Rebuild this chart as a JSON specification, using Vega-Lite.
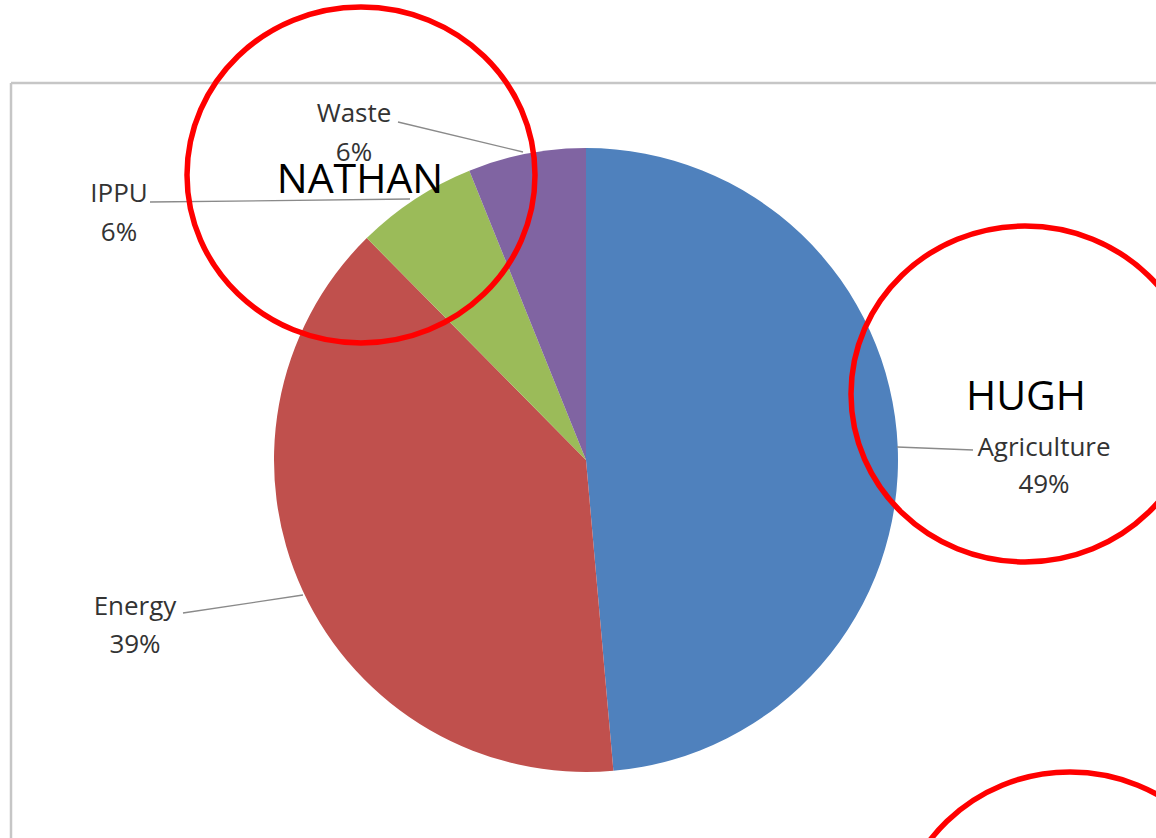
{
  "$schema": "https://vega.github.io/schema/vega-lite/v6.json",
  "width": 1156,
  "height": 838,
  "autosize": {"type": "none"},
  "padding": 0,
  "background": "white",
  "config": {"view": {"stroke": null}},
  "datasets": {
    "shares": [
      {"category": "Agriculture", "share": 0.486},
      {"category": "Energy", "share": 0.39},
      {"category": "IPPU", "share": 0.063},
      {"category": "Waste", "share": 0.061}
    ]
  },
  "data": {"name": "shares"},
  "layer": [
    {
      "data": {"values": [{}]},
      "mark": {"type": "rule", "color": "#c6c6c6", "strokeWidth": 2.5},
      "encoding": {
        "x": {"datum": 11, "type": "quantitative", "scale": {"domain": [0, 1156], "nice": false, "zero": false}, "axis": null},
        "x2": {"datum": 1156},
        "y": {"datum": 83, "type": "quantitative", "scale": {"domain": [838, 0], "nice": false, "zero": false}, "axis": null}
      }
    },
    {
      "data": {"values": [{}]},
      "mark": {"type": "rule", "color": "#c6c6c6", "strokeWidth": 2.5},
      "encoding": {
        "x": {"datum": 11, "type": "quantitative", "scale": {"domain": [0, 1156], "nice": false, "zero": false}, "axis": null},
        "y": {"datum": 83, "type": "quantitative", "scale": {"domain": [838, 0], "nice": false, "zero": false}, "axis": null},
        "y2": {"datum": 838}
      }
    },
    {
      "mark": {"type": "arc", "radius": 312},
      "encoding": {
        "theta": {"field": "share", "type": "quantitative", "stack": true},
        "order": {"field": "category", "type": "ordinal", "sort": "ascending"},
        "color": {
          "field": "category",
          "type": "nominal",
          "scale": {"domain": ["Agriculture", "Energy", "IPPU", "Waste"], "range": ["#4f81bd", "#c0504d", "#9bbb59", "#8064a2"]},
          "legend": null
        },
        "x": {"datum": 586, "type": "quantitative", "scale": {"domain": [0, 1156], "nice": false, "zero": false}, "axis": null},
        "y": {"datum": 460, "type": "quantitative", "scale": {"domain": [838, 0], "nice": false, "zero": false}, "axis": null}
      }
    },
    {
      "transform": [
        {"calculate": "datum.category + '\\n' + format(datum.share, '.0%')", "as": "label"}
      ],
      "layer": [
        {
          "transform": [{"filter": "datum.category == 'Waste'"}],
          "layer": [
            {
              "mark": {"type": "rule", "color": "#8a8a8a", "strokeWidth": 1.3},
              "encoding": {
                "x": {"datum": 398, "type": "quantitative", "scale": {"domain": [0, 1156], "nice": false, "zero": false}, "axis": null},
                "y": {"datum": 122, "type": "quantitative", "scale": {"domain": [838, 0], "nice": false, "zero": false}, "axis": null},
                "x2": {"datum": 523},
                "y2": {"datum": 152}
              }
            },
            {
              "mark": {"type": "text", "font": "Open Sans", "fontSize": 26, "color": "#333333", "align": "center", "baseline": "alphabetic", "lineBreak": "\n", "lineHeight": 39},
              "encoding": {
                "text": {"field": "label", "type": "nominal"},
                "x": {"datum": 354, "type": "quantitative", "scale": {"domain": [0, 1156], "nice": false, "zero": false}, "axis": null},
                "y": {"datum": 122, "type": "quantitative", "scale": {"domain": [838, 0], "nice": false, "zero": false}, "axis": null}
              }
            }
          ]
        },
        {
          "transform": [{"filter": "datum.category == 'IPPU'"}],
          "layer": [
            {
              "mark": {"type": "rule", "color": "#8a8a8a", "strokeWidth": 1.3},
              "encoding": {
                "x": {"datum": 150, "type": "quantitative", "scale": {"domain": [0, 1156], "nice": false, "zero": false}, "axis": null},
                "y": {"datum": 202, "type": "quantitative", "scale": {"domain": [838, 0], "nice": false, "zero": false}, "axis": null},
                "x2": {"datum": 410},
                "y2": {"datum": 199}
              }
            },
            {
              "mark": {"type": "text", "font": "Open Sans", "fontSize": 26, "color": "#333333", "align": "center", "baseline": "alphabetic", "lineBreak": "\n", "lineHeight": 39},
              "encoding": {
                "text": {"field": "label", "type": "nominal"},
                "x": {"datum": 119, "type": "quantitative", "scale": {"domain": [0, 1156], "nice": false, "zero": false}, "axis": null},
                "y": {"datum": 202, "type": "quantitative", "scale": {"domain": [838, 0], "nice": false, "zero": false}, "axis": null}
              }
            }
          ]
        },
        {
          "transform": [{"filter": "datum.category == 'Agriculture'"}],
          "layer": [
            {
              "mark": {"type": "rule", "color": "#8a8a8a", "strokeWidth": 1.3},
              "encoding": {
                "x": {"datum": 897, "type": "quantitative", "scale": {"domain": [0, 1156], "nice": false, "zero": false}, "axis": null},
                "y": {"datum": 447, "type": "quantitative", "scale": {"domain": [838, 0], "nice": false, "zero": false}, "axis": null},
                "x2": {"datum": 973},
                "y2": {"datum": 450}
              }
            },
            {
              "mark": {"type": "text", "font": "Open Sans", "fontSize": 26, "color": "#333333", "align": "center", "baseline": "alphabetic", "lineBreak": "\n", "lineHeight": 37},
              "encoding": {
                "text": {"field": "label", "type": "nominal"},
                "x": {"datum": 1044, "type": "quantitative", "scale": {"domain": [0, 1156], "nice": false, "zero": false}, "axis": null},
                "y": {"datum": 456, "type": "quantitative", "scale": {"domain": [838, 0], "nice": false, "zero": false}, "axis": null}
              }
            }
          ]
        },
        {
          "transform": [{"filter": "datum.category == 'Energy'"}],
          "layer": [
            {
              "mark": {"type": "rule", "color": "#8a8a8a", "strokeWidth": 1.3},
              "encoding": {
                "x": {"datum": 183, "type": "quantitative", "scale": {"domain": [0, 1156], "nice": false, "zero": false}, "axis": null},
                "y": {"datum": 613, "type": "quantitative", "scale": {"domain": [838, 0], "nice": false, "zero": false}, "axis": null},
                "x2": {"datum": 303},
                "y2": {"datum": 595}
              }
            },
            {
              "mark": {"type": "text", "font": "Open Sans", "fontSize": 26, "color": "#333333", "align": "center", "baseline": "alphabetic", "lineBreak": "\n", "lineHeight": 38},
              "encoding": {
                "text": {"field": "label", "type": "nominal"},
                "x": {"datum": 135, "type": "quantitative", "scale": {"domain": [0, 1156], "nice": false, "zero": false}, "axis": null},
                "y": {"datum": 615, "type": "quantitative", "scale": {"domain": [838, 0], "nice": false, "zero": false}, "axis": null}
              }
            }
          ]
        }
      ]
    },
    {
      "data": {"values": [{}]},
      "mark": {
        "type": "point",
        "shape": "M1,0C1,0.5333,0.5523,0.9655,0,0.9655C-0.5523,0.9655,-1,0.5333,-1,0C-1,-0.5333,-0.5523,-0.9655,0,-0.9655C0.5523,-0.9655,1,-0.5333,1,0Z",
        "size": 121104,
        "filled": false,
        "stroke": "#ff0000",
        "strokeWidth": 5.5,
        "opacity": 1
      },
      "encoding": {
        "x": {"datum": 361, "type": "quantitative", "scale": {"domain": [0, 1156], "nice": false, "zero": false}, "axis": null},
        "y": {"datum": 175, "type": "quantitative", "scale": {"domain": [838, 0], "nice": false, "zero": false}, "axis": null}
      }
    },
    {
      "data": {"values": [{}]},
      "mark": {
        "type": "point",
        "shape": "M1,0C1,0.5333,0.5523,0.9655,0,0.9655C-0.5523,0.9655,-1,0.5333,-1,0C-1,-0.5333,-0.5523,-0.9655,0,-0.9655C0.5523,-0.9655,1,-0.5333,1,0Z",
        "size": 121104,
        "filled": false,
        "stroke": "#ff0000",
        "strokeWidth": 5.5,
        "opacity": 1
      },
      "encoding": {
        "x": {"datum": 1025, "type": "quantitative", "scale": {"domain": [0, 1156], "nice": false, "zero": false}, "axis": null},
        "y": {"datum": 394, "type": "quantitative", "scale": {"domain": [838, 0], "nice": false, "zero": false}, "axis": null}
      }
    },
    {
      "data": {"values": [{}]},
      "mark": {
        "type": "point",
        "shape": "M1,0C1,0.5333,0.5523,0.9655,0,0.9655C-0.5523,0.9655,-1,0.5333,-1,0C-1,-0.5333,-0.5523,-0.9655,0,-0.9655C0.5523,-0.9655,1,-0.5333,1,0Z",
        "size": 121104,
        "filled": false,
        "stroke": "#ff0000",
        "strokeWidth": 5.5,
        "opacity": 1
      },
      "encoding": {
        "x": {"datum": 1070, "type": "quantitative", "scale": {"domain": [0, 1156], "nice": false, "zero": false}, "axis": null},
        "y": {"datum": 940, "type": "quantitative", "scale": {"domain": [838, 0], "nice": false, "zero": false}, "axis": null}
      }
    },
    {
      "data": {"values": [{}]},
      "mark": {"type": "text", "text": "NATHAN", "font": "Open Sans", "fontSize": 41, "color": "#000000", "align": "center", "baseline": "alphabetic"},
      "encoding": {
        "x": {"datum": 360, "type": "quantitative", "scale": {"domain": [0, 1156], "nice": false, "zero": false}, "axis": null},
        "y": {"datum": 193, "type": "quantitative", "scale": {"domain": [838, 0], "nice": false, "zero": false}, "axis": null}
      }
    },
    {
      "data": {"values": [{}]},
      "mark": {"type": "text", "text": "HUGH", "font": "Open Sans", "fontSize": 41, "color": "#000000", "align": "center", "baseline": "alphabetic"},
      "encoding": {
        "x": {"datum": 1026, "type": "quantitative", "scale": {"domain": [0, 1156], "nice": false, "zero": false}, "axis": null},
        "y": {"datum": 410, "type": "quantitative", "scale": {"domain": [838, 0], "nice": false, "zero": false}, "axis": null}
      }
    }
  ]
}
